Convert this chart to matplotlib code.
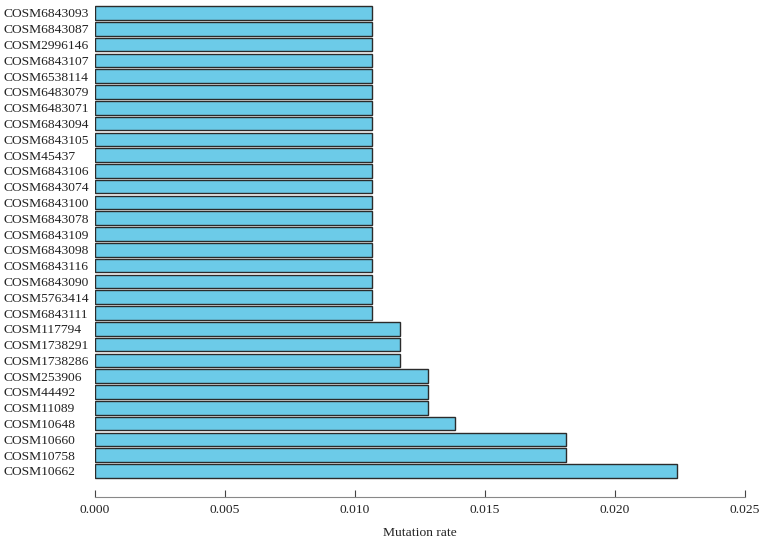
import matplotlib
matplotlib.use("Agg")
from matplotlib import pyplot as plt
import numpy as np

# bottom to top, as drawn
mutations = ['COSM10662', 'COSM10758', 'COSM10660', 'COSM10648', 'COSM11089',
             'COSM44492', 'COSM253906', 'COSM1738286', 'COSM1738291', 'COSM117794',
             'COSM6843111', 'COSM5763414', 'COSM6843090', 'COSM6843116', 'COSM6843098',
             'COSM6843109', 'COSM6843078', 'COSM6843100', 'COSM6843074', 'COSM6843106',
             'COSM45437', 'COSM6843105', 'COSM6843094', 'COSM6483071', 'COSM6483079',
             'COSM6538114', 'COSM6843107', 'COSM2996146', 'COSM6843087', 'COSM6843093']
rates = [0.02239, 0.01812, 0.01812, 0.01386, 0.01279,
         0.01279, 0.01279, 0.01173, 0.01173, 0.01173] + [0.01066] * 20
x_ticks = [0.0, 0.005, 0.010, 0.015, 0.020, 0.025]

plt.rcParams['font.family'] = ['Liberation Serif', 'DejaVu Serif']

fig = plt.figure(figsize=(7.65, 5.43), dpi=100)
ax = fig.add_axes([0.1242, 0.0847, 0.8497, 0.908])

pos = np.arange(len(mutations))
ax.barh(pos, rates, height=0.86, color='#6ccbe8', edgecolor='#2b2b2b', linewidth=1.0)

ax.set_ylim(-1.65, len(mutations) - 0.43)
ax.set_xlim(0, 0.025)
ax.set_yticks(pos)
ax.set_yticklabels(mutations, fontsize=9.7, color='#222222')
for lbl in ax.get_yticklabels():
    lbl.set_horizontalalignment('left')
ax.tick_params(axis='y', length=0, pad=66)

ax.set_xticks(x_ticks)
ax.set_xticklabels(['%.3f' % t for t in x_ticks], fontsize=9.7, color='#222222')
ax.tick_params(axis='x', direction='in', length=5, width=0.8, color='#444444', pad=5)
ax.set_xlabel('Mutation rate', fontsize=9.7, color='#222222', labelpad=8)

for side in ['top', 'right', 'left']:
    ax.spines[side].set_visible(False)
ax.spines['bottom'].set_color('#888888')
ax.spines['bottom'].set_linewidth(0.8)

fig.savefig('out.png', dpi=100)
